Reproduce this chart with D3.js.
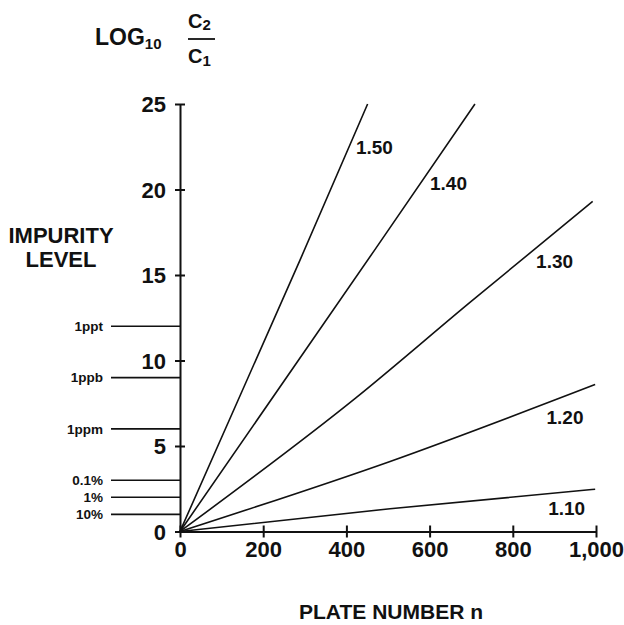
<!DOCTYPE html>
<html>
<head>
<meta charset="utf-8">
<script src="https://cdn.jsdelivr.net/npm/d3@7"></script>
<style>
  body { margin: 0; background: #fff; }
  svg { display: block; }
  text { font-family: "Liberation Sans", Arial, sans-serif; font-weight: bold; fill: #111; }
</style>
</head>
<body>
<div id="chart"></div>
<script>
// separation factor curves: [plate number, log10 C2/C1]
var ratios = ["1.50", "1.40", "1.30", "1.20", "1.10"];
var curve150 = [[0, 0], [289, 15.9], [451, 25]];
var curve140 = [[0, 0], [469, 16.5], [709, 25]];
var curve130 = [[0, 0], [422, 7.8], [697, 13.4], [992, 19.3]];
var curve120 = [[0, 0], [505, 4.1], [998, 8.6]];
var curve110 = [[0, 0], [505, 1.33], [998, 2.47]];
var curves = [curve150, curve140, curve130, curve120, curve110];

// impurity levels marked on the left
var impurityNames = ["10%", "1%", "0.1%", "1ppm", "1ppb", "1ppt"];
var impurityValues = [1, 2, 3, 6, 9, 12];

var xTicks = [0, 200, 400, 600, 800, 1000];
var yTicks = [0, 5, 10, 15, 20, 25];

// where each curve label sits, [n, value]
var labelAt = [[423, 22.1], [601, 20.0], [856, 15.4], [881, 6.3], [885, 0.96]];

function drawChart() {
  var width = 624, height = 625;

  var svg = d3.select("#chart").append("svg")
      .attr("width", width)
      .attr("height", height);

  var x = d3.scaleLinear().domain([0, 1000]).range([180, 596]);
  var y = d3.scaleLinear().domain([0, 25]).range([531.5, 104]);

  // x axis, ticks cross the line
  var xAxis = svg.append("g")
      .attr("transform", "translate(0," + y(0) + ")")
      .call(d3.axisBottom(x).tickValues(xTicks).tickSize(6).tickSizeOuter(0)
        .tickFormat(function(d) { return d == 1000 ? "1,000" : d; }));
  xAxis.attr("font-family", null).attr("font-size", null);
  xAxis.select(".domain").attr("stroke", "#111").attr("stroke-width", 2);
  xAxis.selectAll(".tick line")
      .attr("y1", -6).attr("y2", 6)
      .attr("stroke", "#111").attr("stroke-width", 2);
  xAxis.selectAll(".tick text")
      .attr("y", 10).attr("dy", "0.71em")
      .style("font-size", "22px").style("fill", "#111");

  // y axis
  var yAxis = svg.append("g")
      .attr("transform", "translate(" + x(0) + ",0)")
      .call(d3.axisLeft(y).tickValues(yTicks).tickSize(5).tickSizeOuter(0));
  yAxis.attr("font-family", null).attr("font-size", null);
  yAxis.select(".domain").attr("stroke", "#111").attr("stroke-width", 2);
  yAxis.selectAll(".tick line")
      .attr("x1", -5).attr("x2", 5)
      .attr("stroke", "#111").attr("stroke-width", 2);
  yAxis.selectAll(".tick text")
      .attr("x", -14).attr("dy", "0.36em")
      .style("font-size", "22px").style("fill", "#111");

  // impurity marks
  var imp = svg.selectAll(".impurity")
      .data(impurityValues)
      .enter().append("g")
      .attr("class", "impurity");
  imp.append("line")
      .attr("x1", 111).attr("x2", x(0))
      .attr("y1", function(d) { return y(d); })
      .attr("y2", function(d) { return y(d); })
      .attr("stroke", "#111").attr("stroke-width", 1.6);
  imp.append("text")
      .attr("x", 103)
      .attr("y", function(d) { return y(d); })
      .attr("dy", "0.36em")
      .style("text-anchor", "end")
      .style("font-size", "13.5px")
      .text(function(d, i) { return impurityNames[i]; });

  // curves
  var line = d3.line()
      .x(function(d) { return x(d[0]); })
      .y(function(d) { return y(d[1]); })
      .curve(d3.curveMonotoneX);

  svg.selectAll(".curve")
      .data(curves)
      .enter().append("path")
      .attr("class", "curve")
      .attr("d", line)
      .attr("fill", "none")
      .attr("stroke", "#111")
      .attr("stroke-width", 1.6);

  svg.selectAll(".curveLabel")
      .data(ratios)
      .enter().append("text")
      .attr("class", "curveLabel")
      .attr("x", function(d, i) { return x(labelAt[i][0]); })
      .attr("y", function(d, i) { return y(labelAt[i][1]); })
      .style("font-size", "19px")
      .text(function(d) { return d; });

  // axis titles
  var title = svg.append("text")
      .attr("x", 95).attr("y", 45)
      .style("font-size", "23px");
  title.append("tspan").text("LOG");
  title.append("tspan").attr("dy", 4).style("font-size", "15px").text("10");

  var c2 = svg.append("text").attr("x", 188).attr("y", 28).style("font-size", "20px");
  c2.append("tspan").text("C");
  c2.append("tspan").attr("dy", 2).style("font-size", "15px").text("2");
  svg.append("line")
      .attr("x1", 188).attr("x2", 215).attr("y1", 39).attr("y2", 39)
      .attr("stroke", "#111").attr("stroke-width", 1.8);
  var c1 = svg.append("text").attr("x", 188).attr("y", 63).style("font-size", "20px");
  c1.append("tspan").text("C");
  c1.append("tspan").attr("dy", 3).style("font-size", "15px").text("1");

  svg.append("text")
      .attr("x", 61).attr("y", 243)
      .style("text-anchor", "middle")
      .style("font-size", "22px")
      .text("IMPURITY");
  svg.append("text")
      .attr("x", 61).attr("y", 267)
      .style("text-anchor", "middle")
      .style("font-size", "22px")
      .text("LEVEL");

  svg.append("text")
      .attr("x", 391).attr("y", 619)
      .style("text-anchor", "middle")
      .style("font-size", "21px")
      .text("PLATE NUMBER n");
}

drawChart();
</script>
</body>
</html>
